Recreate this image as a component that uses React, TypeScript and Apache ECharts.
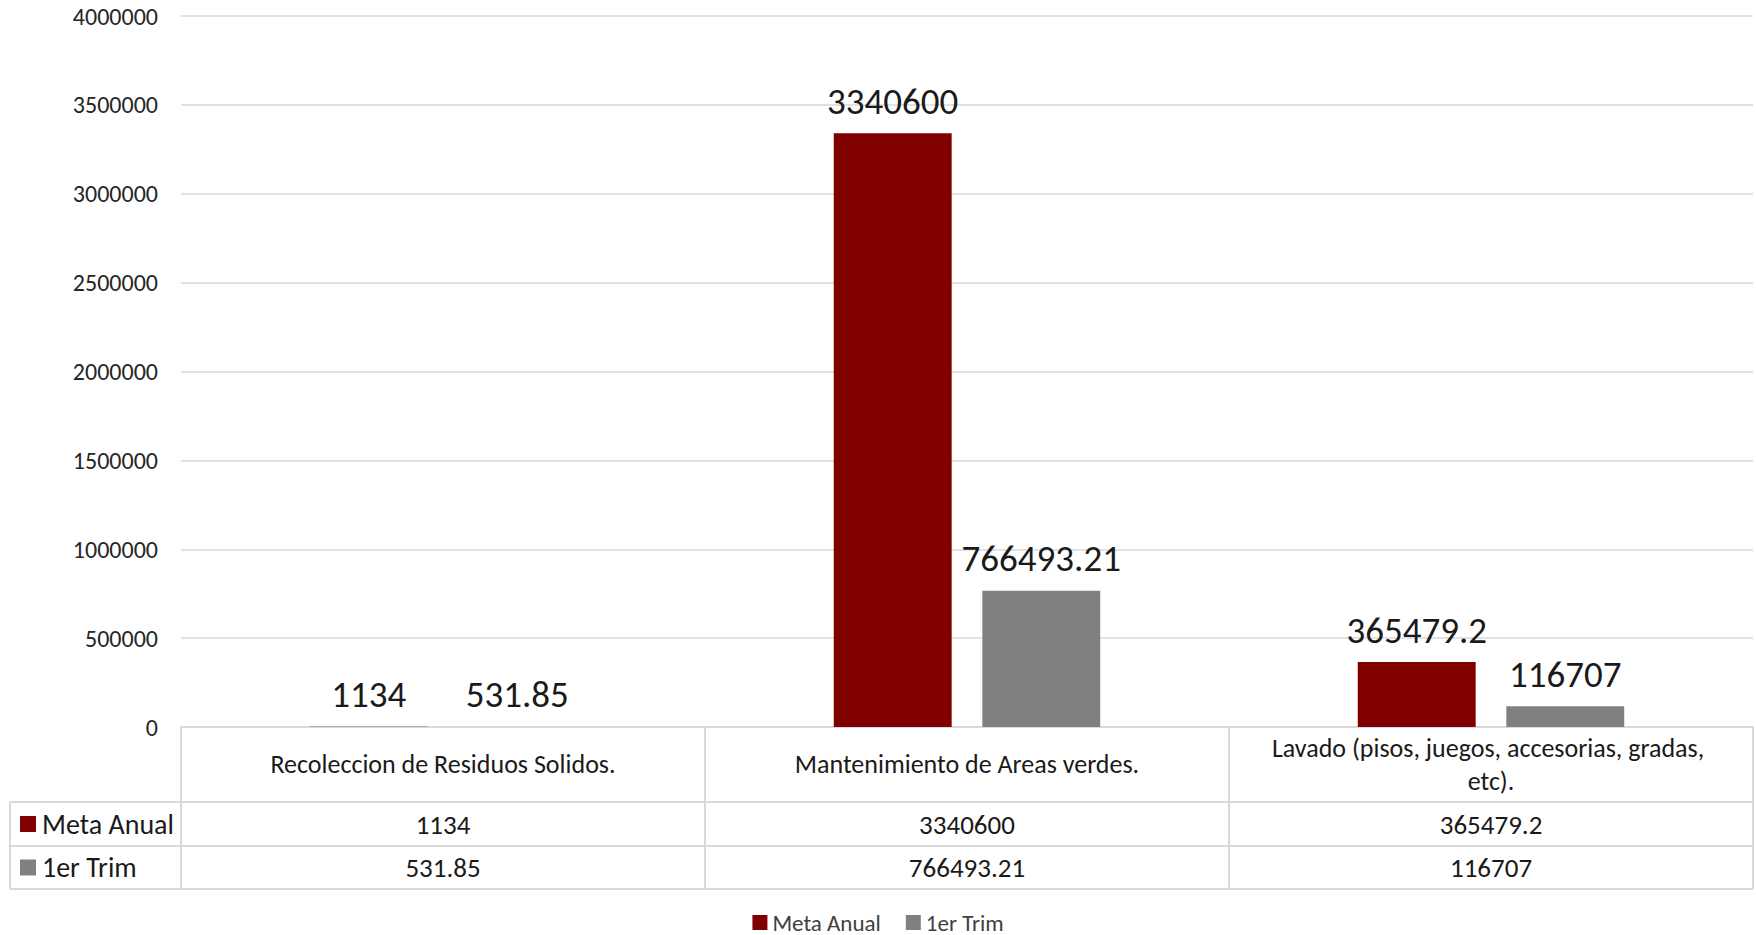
import React, { useEffect, useRef } from "react";
import * as echarts from "echarts";

const categories = [
  "Recoleccion de Residuos Solidos.",
  "Mantenimiento de Areas verdes.",
  "Lavado (pisos, juegos, accesorias, gradas, etc).",
];
const seriesNames = ["Meta Anual", "1er Trim"];
const metaAnual = [1134, 3340600, 365479.2];
const primerTrim = [531.85, 766493.21, 116707];
const colors = ["#800000", "#808080"];
const yMin = 0;
const yMax = 4000000;
const yInterval = 500000;

const W = 1756;
const H = 935;
const FONT = "Carlito, 'Noto Sans', sans-serif";

export default function App() {
  const ref = useRef<HTMLDivElement>(null);
  useEffect(() => {
    if (!ref.current) return;
    const chart = echarts.init(ref.current, null, { renderer: "svg" });
    const gridLeft = 181;
    const gridRight = 3;
    const gridTop = 16;
    const gridBottom = 208;
    const plotW = W - gridLeft - gridRight;
    const catW = plotW / categories.length;
    const zeroY = H - gridBottom;
    const rowCat = zeroY + 75;
    const rowMeta = rowCat + 44;
    const rowTrim = rowMeta + 43;
    const tableLeft = 10;
    const lineStyle = { stroke: "#d9d9d9", lineWidth: 2 };
    const graphics: any[] = [];
    [rowCat, rowMeta, rowTrim].forEach((y) =>
      graphics.push({ type: "line", shape: { x1: tableLeft, y1: y, x2: W - gridRight, y2: y }, style: lineStyle, silent: true })
    );
    graphics.push({ type: "line", shape: { x1: tableLeft, y1: rowCat, x2: tableLeft, y2: rowTrim }, style: lineStyle, silent: true });
    for (let i = 0; i <= categories.length; i++) {
      const x = gridLeft + catW * i;
      graphics.push({ type: "line", shape: { x1: x, y1: zeroY, x2: x, y2: rowTrim }, style: lineStyle, silent: true });
    }
    const rows = [metaAnual, primerTrim];
    const rowCenters = [(rowCat + rowMeta) / 2, (rowMeta + rowTrim) / 2];
    rows.forEach((vals, r) => {
      const cy = rowCenters[r];
      graphics.push({ type: "rect", shape: { x: 20, y: cy - 8, width: 16, height: 16 }, style: { fill: colors[r] }, silent: true });
      graphics.push({
        type: "text",
        x: 42,
        y: cy,
        style: { text: seriesNames[r], fontSize: 28, fontFamily: FONT, fill: "#1a1a1a", verticalAlign: "middle", align: "left" },
        silent: true,
      });
      vals.forEach((v, i) => {
        graphics.push({
          type: "text",
          x: gridLeft + catW * (i + 0.5),
          y: cy,
          style: { text: String(v), fontSize: 27, fontFamily: FONT, fill: "#1a1a1a", verticalAlign: "middle", align: "center" },
          silent: true,
        });
      });
    });

    const labelCfg = {
      show: true,
      position: "top",
      distance: 10,
      fontSize: 37,
      lineHeight: 44,
      fontFamily: FONT,
      color: "#1a1a1a",
      formatter: (p: any) => String(p.value),
    };

    chart.setOption({
      animation: false,
      backgroundColor: "#ffffff",
      textStyle: { fontFamily: FONT },
      grid: { left: gridLeft, right: gridRight, top: gridTop, bottom: gridBottom, containLabel: false },
      legend: {
        data: seriesNames,
        left: "center",
        top: 911,
        padding: 0,
        icon: "rect",
        itemWidth: 15,
        itemHeight: 15,
        itemGap: 25,
        textStyle: { fontSize: 23, lineHeight: 22, color: "#404040", fontFamily: FONT },
      },
      xAxis: {
        type: "category",
        data: categories,
        axisLine: { show: true, lineStyle: { color: "#d9d9d9", width: 2 } },
        axisTick: { show: false },
        axisLabel: {
          interval: 0,
          width: 465,
          overflow: "break",
          fontSize: 26,
          lineHeight: 33,
          margin: 37,
          verticalAlign: "middle",
          color: "#1a1a1a",
          fontFamily: FONT,
        },
      },
      yAxis: {
        type: "value",
        min: yMin,
        max: yMax,
        interval: yInterval,
        axisLine: { show: false },
        axisTick: { show: false },
        splitLine: { lineStyle: { color: "#d9d9d9", width: 1.5 } },
        axisLabel: {
          fontSize: 24,
          margin: 23,
          color: "#262626",
          fontFamily: FONT,
          formatter: (v: number) => String(v),
        },
      },
      series: [
        {
          name: seriesNames[0],
          type: "bar",
          data: metaAnual,
          barWidth: "22.5%",
          barGap: "26%",
          itemStyle: { color: colors[0] },
          label: labelCfg,
        },
        {
          name: seriesNames[1],
          type: "bar",
          data: primerTrim,
          barWidth: "22.5%",
          barGap: "26%",
          itemStyle: { color: colors[1] },
          label: labelCfg,
        },
      ],
      graphic: graphics,
    });
    return () => chart.dispose();
  }, []);
  return <div ref={ref} style={{ position: "absolute", left: 0, top: 0, width: W, height: H }} />;
}
